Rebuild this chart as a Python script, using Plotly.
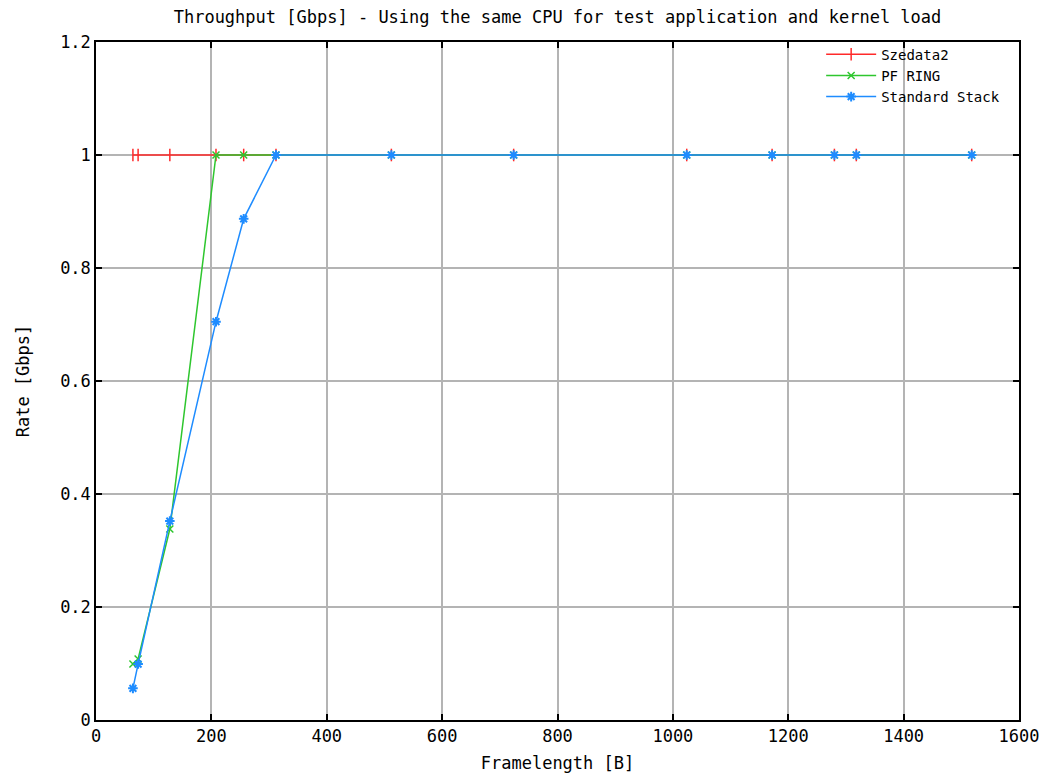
import plotly.graph_objects as go

framelength = [64, 73, 128, 208, 256, 312, 512, 724, 1024, 1172, 1280, 1318, 1518]
szedata2 = [1, 1, 1, 1, 1, 1, 1, 1, 1, 1, 1, 1, 1]
pf_ring = [0.099, 0.108, 0.338, 1, 1, 1, 1, 1, 1, 1, 1, 1, 1]
std_stack = [0.056, 0.099, 0.352, 0.705, 0.887, 1, 1, 1, 1, 1, 1, 1, 1]

x_ticks = [0, 200, 400, 600, 800, 1000, 1200, 1400, 1600]
y_ticks = [0, 0.2, 0.4, 0.6, 0.8, 1, 1.2]
y_ticktext = ["0", "0.2", "0.4", "0.6", "0.8", "1", "1.2"]

FONT = "DejaVu Sans Mono"
FS = 17

fig = go.Figure()
fig.add_trace(go.Scatter(x=framelength, y=szedata2, name="Szedata2", mode="lines+markers",
                         line=dict(color="#ff2a2a", width=1.5),
                         marker=dict(symbol="line-ns-open", size=9, line=dict(color="#ff2a2a", width=1.5))))
fig.add_trace(go.Scatter(x=framelength, y=pf_ring, name="PF RING", mode="lines+markers",
                         line=dict(color="#2ec62e", width=1.5),
                         marker=dict(symbol="x-thin-open", size=7, line=dict(color="#2ec62e", width=1.5))))
fig.add_trace(go.Scatter(x=framelength, y=std_stack, name="Standard Stack", mode="lines+markers",
                         line=dict(color="#1e8cff", width=1.5),
                         marker=dict(symbol="asterisk-open", size=8, line=dict(color="#1e8cff", width=2))))

axis_common = dict(showline=True, linecolor="black", linewidth=1.5, mirror="ticks",
                   ticks="inside", ticklen=6, tickcolor="black", tickwidth=1.5,
                   showgrid=True, gridcolor="#b4b4b4", gridwidth=1.5, zeroline=False,
                   tickfont=dict(family=FONT, size=FS, color="black"))

fig.update_layout(
    width=1052, height=780,
    margin=dict(l=88, r=41, t=34, b=68),
    paper_bgcolor="white", plot_bgcolor="white",
    title=dict(text="Throughput [Gbps] - Using the same CPU for test application and kernel load",
               x=0.5, xref="paper", y=0.988, yanchor="middle",
               font=dict(family=FONT, size=FS, color="black")),
    xaxis=dict(range=[0, 1600], tickvals=x_ticks,
               title=dict(text="Framelength [B]", font=dict(family=FONT, size=FS, color="black"), standoff=12),
               **axis_common),
    yaxis=dict(range=[0, 1.2], tickvals=y_ticks, ticktext=y_ticktext,
               title=dict(text="Rate [Gbps]", font=dict(family=FONT, size=FS, color="black"), standoff=26),
               **axis_common),
    legend=dict(x=0.985, y=1.005, xanchor="right", yanchor="top",
                bgcolor="rgba(255,255,255,0)", borderwidth=0,
                font=dict(family=FONT, size=14, color="black"), tracegroupgap=0,
                itemwidth=50),
    showlegend=True,
)

fig.write_html("out.html")
